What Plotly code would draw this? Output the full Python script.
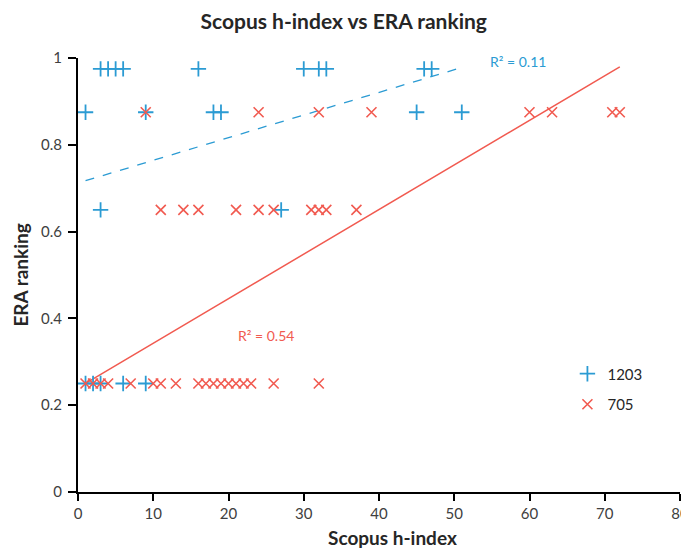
import plotly.graph_objects as go

# Series "1203" (blue +)
b_x = [3, 4, 5, 6, 16, 30, 32, 33, 46, 47,
       1, 9, 18, 19, 45, 51,
       3, 27,
       1, 2, 3, 6, 9]
b_y = [0.975]*10 + [0.875]*6 + [0.65]*2 + [0.25]*5

# Series "705" (red x)
r_x = [9, 24, 32, 39, 60, 63, 71, 72,
       11, 14, 16, 21, 24, 26, 31, 32, 33, 37,
       1, 2, 3, 4, 7, 10, 11, 13, 16, 17, 18, 19, 20, 21, 22, 23, 26, 32]
r_y = [0.875]*8 + [0.65]*10 + [0.25]*18

# Linear trendlines (slope, intercept) and R²
b_slope, b_int, b_r2 = 0.00522, 0.712, "0.11"
r_slope, r_int, r_r2 = 0.01027, 0.240, "0.54"

BLUE = "#2b9bd3"
RED = "#f15a50"
FONT = "Lato"

def trend(xs, m, c):
    x0, x1 = min(xs), max(xs)
    return [x0, x1], [m * x0 + c, m * x1 + c]

fig = go.Figure()
bx, by = trend(b_x, b_slope, b_int)
rx, ry = trend(r_x, r_slope, r_int)
fig.add_trace(go.Scatter(x=bx, y=by, mode="lines", line=dict(color=BLUE, width=1.3, dash="dash"),
                         showlegend=False, hoverinfo="skip"))
fig.add_trace(go.Scatter(x=rx, y=ry, mode="lines", line=dict(color=RED, width=1.5),
                         showlegend=False, hoverinfo="skip"))
fig.add_trace(go.Scatter(x=b_x, y=b_y, mode="markers", name="1203", legendgroup="a",
                         marker=dict(symbol="cross-thin", size=11, line=dict(color=BLUE, width=1.8), color=BLUE)))
fig.add_trace(go.Scatter(x=r_x, y=r_y, mode="markers", name="705", legendgroup="b",
                         marker=dict(symbol="x-thin", size=10, line=dict(color=RED, width=1.6), color=RED)))

fig.add_annotation(x=54.5, y=0.993, text="R² = " + b_r2, showarrow=False, xanchor="left",
                   font=dict(family=FONT, size=14, color=BLUE))
fig.add_annotation(x=21, y=0.36, text="R² = " + r_r2, showarrow=False, xanchor="left",
                   font=dict(family=FONT, size=14, color=RED))

# axis titles
fig.add_annotation(xref="paper", yref="paper", x=0.523, y=-0.104, text="<b>Scopus h-index</b>",
                   showarrow=False, xanchor="center", yanchor="middle",
                   font=dict(family=FONT, size=19, color="#262626"))
fig.add_annotation(xref="paper", yref="paper", x=-0.097, y=0.5, text="<b>ERA ranking</b>", textangle=-90,
                   showarrow=False, xanchor="center", yanchor="middle",
                   font=dict(family=FONT, size=19, color="#262626"))

fig.update_layout(
    width=681, height=543,
    margin=dict(l=70, r=9, t=50, b=59),
    paper_bgcolor="white", plot_bgcolor="white",
    font=dict(family=FONT, size=15, color="#404040"),
    title=dict(text="<b>Scopus h-index vs ERA ranking</b>", x=0.493, xanchor="center", y=0.975, yanchor="middle",
               font=dict(family=FONT, size=21, color="#262626")),
    legend=dict(x=0.813, y=0.31, xanchor="left", yanchor="top", bgcolor="rgba(0,0,0,0)",
                traceorder="grouped", tracegroupgap=8,
                font=dict(family=FONT, size=15, color="#262626")),
    xaxis=dict(range=[0, 80], dtick=10, showgrid=False, zeroline=False, showline=True, automargin=False,
               linecolor="black", linewidth=2, ticks="outside", ticklen=7, tickwidth=2, tickcolor="black"),
    yaxis=dict(range=[0, 1], dtick=0.2, showgrid=False, zeroline=False, showline=True, automargin=False,
               linecolor="black", linewidth=2, ticks="outside", ticklen=8, tickwidth=2, tickcolor="black",
               ticklabelstandoff=3),
)

fig.write_html("out.html")
